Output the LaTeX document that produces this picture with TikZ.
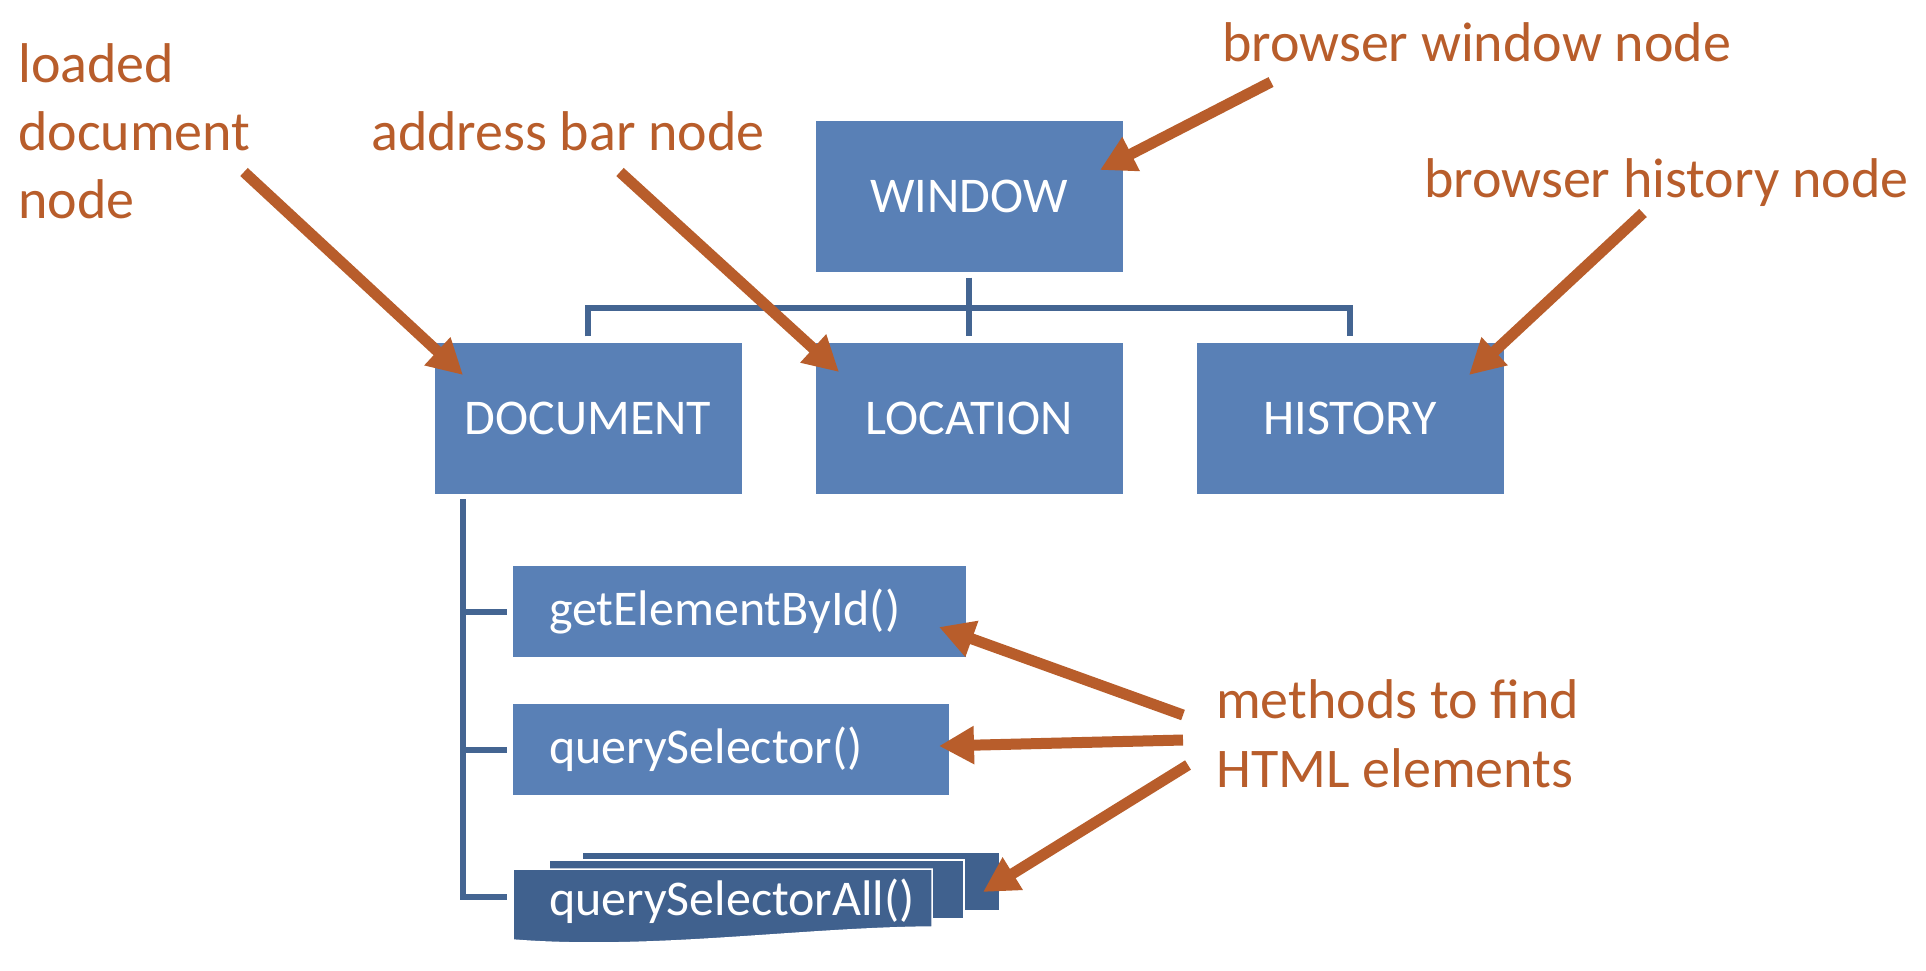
\documentclass[tikz,border=0pt]{standalone}
\usepackage{fontspec}
\setmainfont{Carlito}
\usetikzlibrary{arrows.meta}
\definecolor{boxblue}{RGB}{89,128,182}
\definecolor{darkbox}{RGB}{64,97,142}
\definecolor{connblue}{RGB}{68,101,146}
\definecolor{callout}{RGB}{184,93,43}
\begin{document}
\begin{tikzpicture}[x=1pt,y=-1pt,
  topbox/.style={fill=boxblue, draw=none, minimum width=307pt, minimum height=151pt,
    inner sep=0pt, text=white, font=\fontsize{50}{60}\selectfont},
  methbox/.style={fill=boxblue, draw=none, minimum height=91pt, inner xsep=36pt,
    inner ysep=0pt, text=white, align=left, font=\fontsize{50}{60}\selectfont},
  stackbox/.style={fill=darkbox, draw=white, line width=2pt},
  conn/.style={draw=connblue, line width=6pt},
  lbl/.style={anchor=base west, inner sep=0pt, text=callout, font=\fontsize{56}{68}\selectfont},
  callarrow/.style={draw=callout, line width=11pt, -{Triangle[length=35pt,width=36pt]}}]
\useasboundingbox (0,0) rectangle (1926,970);
\fill[white] (0,0) rectangle (1926,970);

% top-level boxes
\node[topbox] (win)  at (969,196) {WINDOW};
\node[topbox] (doc)  at (588,418) {DOCUMENT};
\node[topbox] (loc)  at (969,418) {LOCATION};
\node[topbox] (hist) at (1350,418) {HISTORY};

% tree connectors
\coordinate (hub) at (969,308);
\draw[conn] ([yshift=-6pt]win.south) -- ([yshift=6pt]loc.north);
\draw[conn] ([yshift=6pt]doc.north) |- (hub) -| ([yshift=6pt]hist.north);

% method boxes
\node[methbox, text width=381pt] (gebi) at (739.5,611.5) {getElementById()};
\node[methbox, text width=364pt] (qs)   at (731,749.5) {querySelector()};

% stacked querySelectorAll
\path[stackbox] (582,852) rectangle (1000,911);
\path[stackbox] (549,860) rectangle (964,919);
\path[stackbox, line width=1.5pt] (513,869) -- (932,869) -- (932,927)
   .. controls (800,928) and (650,951) .. (513,940) -- cycle;
\node[anchor=base west, inner sep=0pt, text=white, font=\fontsize{50}{60}\selectfont] (qsa) at (549,915) {querySelectorAll()};

% document trunk
\coordinate (trunktop) at (463,499);
\coordinate (b1) at ([xshift=-6pt]gebi.west);
\coordinate (b2) at ([xshift=-6pt]qs.west);
\coordinate (b3) at (507,897);
\draw[conn] (trunktop) |- (b3);
\draw[conn] (trunktop |- b1) -- (b1);
\draw[conn] (trunktop |- b2) -- (b2);

% labels
\node[lbl] (ld1) at (18,82) {loaded};
\node[lbl] (ld2) at (18,150) {document};
\node[lbl] (ld3) at (18,218) {node};
\node[lbl] (addr) at (371,150) {address bar node};
\node[lbl] (bwin) at (1222,61) {browser window node};
\node[lbl] (bhist) at (1424,197) {browser history node};
\node[lbl] (meth1) at (1216,718) {methods to find};
\node[lbl] (meth2) at (1216,787) {HTML elements};

% arrow endpoints
\coordinate (t1) at (244,172);  \coordinate (h1) at (463,375);
\coordinate (t2) at (620,172);  \coordinate (h2) at (839,372);
\coordinate (t3) at (1271,82);  \coordinate (h3) at (1100,170);
\coordinate (t4) at (1643,213); \coordinate (h4) at (1469,375);
\coordinate (t5) at (1183,715); \coordinate (h5) at (939,627);
\coordinate (t6) at (1183,740); \coordinate (h6) at (939,746);
\coordinate (t7) at (1188,765); \coordinate (h7) at (983,892);

\draw[callarrow] (t1) -- (h1);
\draw[callarrow] (t2) -- (h2);
\draw[callarrow] (t3) -- (h3);
\draw[callarrow] (t4) -- (h4);
\draw[callarrow] (t5) -- (h5);
\draw[callarrow] (t6) -- (h6);
\draw[callarrow] (t7) -- (h7);
\end{tikzpicture}
\end{document}
